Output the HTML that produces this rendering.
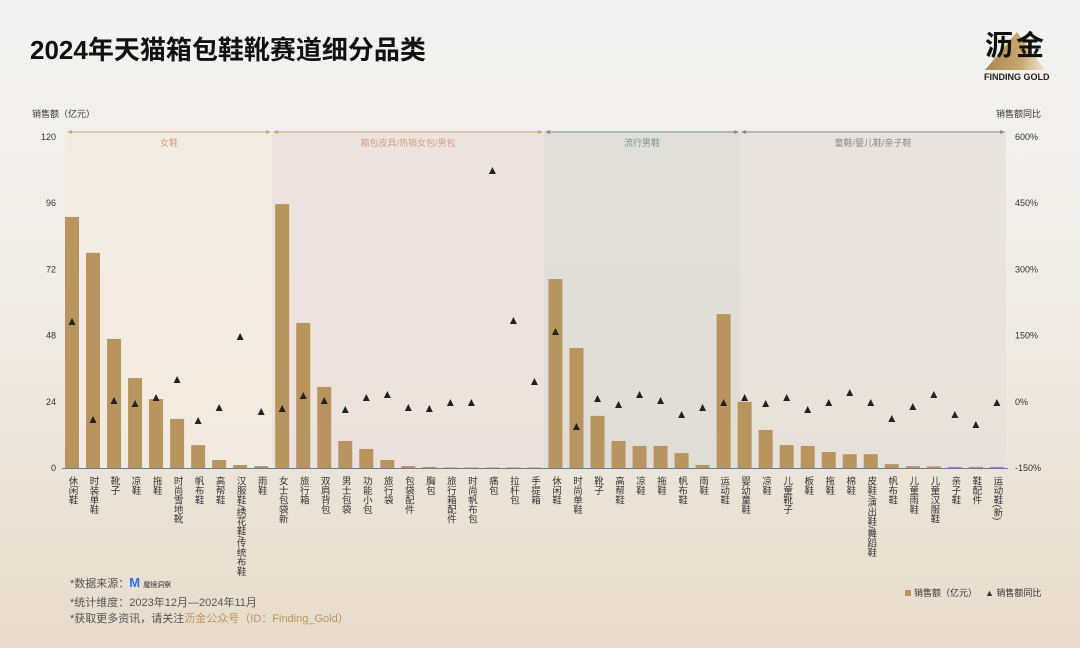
<!DOCTYPE html>
<html><head><meta charset="utf-8"><style>
body{margin:0;width:1080px;height:648px;overflow:hidden;font-family:"Liberation Sans","Noto Sans CJK SC",sans-serif;background:linear-gradient(#f3f3f3 0%,#f0ede8 40%,#e8dccb 100%);position:relative}
.a{position:absolute;white-space:nowrap}
.v{position:absolute;writing-mode:vertical-rl;font-size:9.5px;color:#333;letter-spacing:0px;line-height:10px;top:476px}
</style></head><body>
<div class="a" style="left:30px;top:30px;font-size:26px;font-weight:bold;color:#111">2024年天猫箱包鞋靴赛道细分品类</div>
<svg class="a" style="left:975px;top:15px" width="90" height="65"><defs><linearGradient id="g" x1="0" x2="1"><stop offset="0" stop-color="#a88a55"/><stop offset="0.6" stop-color="#c9a86c"/><stop offset="1" stop-color="#f0e8da"/></linearGradient></defs><polygon points="10,55 42,17 70,55" fill="url(#g)"/></svg>
<div class="a" style="left:985px;top:24px;font-size:28px;font-weight:bold;color:#111;letter-spacing:3px">沥金</div>
<div class="a" style="left:984px;top:72px;font-size:9px;font-weight:bold;color:#222">FINDING GOLD</div>
<div class="a" style="left:32px;top:107px;font-size:9px;color:#333">销售额（亿元）</div>
<div class="a" style="left:996px;top:107px;font-size:9px;color:#333">销售额同比</div>
<svg id="s" class="a" style="left:0;top:0" width="1080" height="648"></svg>
<div id="lb"></div>
<div class="a" style="left:905px;top:586px;font-size:9px;color:#333"><span style="display:inline-block;width:6px;height:6px;background:#b8955f;margin-right:3px"></span>销售额（亿元）</div>
<div class="a" style="left:985px;top:586px;font-size:9px;color:#333">▲ 销售额同比</div>
<div class="a" style="left:70px;top:575px;font-size:11px;color:#555;line-height:16.5px">*数据来源：<span style="color:#2b6fe8;font-weight:bold;font-size:13px">M</span> <span style="font-size:7px;color:#333">魔镜洞察</span><br>*统计维度：2023年12月—2024年11月<br>*获取更多资讯，请关注<span style="color:#b8955f">沥金公众号（ID：Finding_Gold）</span></div>
<script>
var names=["休闲鞋","时装单鞋","靴子","凉鞋","拖鞋","时尚雪地靴","帆布鞋","高帮鞋","汉服鞋/绣花鞋/传统布鞋","雨鞋",
"女士包袋新","旅行箱","双肩背包","男士包袋","功能小包","旅行袋","包袋配件","胸包","旅行箱配件","时尚帆布包","痛包","拉杆包","手提箱",
"休闲鞋","时尚单鞋","靴子","高帮鞋","凉鞋","拖鞋","帆布鞋","雨鞋","运动鞋",
"婴幼童鞋","凉鞋","儿童靴子","板鞋","拖鞋","棉鞋","皮鞋/演出鞋/舞蹈鞋","帆布鞋","儿童雨鞋","儿童汉服鞋","亲子鞋","鞋配件","运动鞋(新)"];
var v=[91,78,46.8,32.6,25,17.8,8.3,2.9,1.1,0.7,95.7,52.6,29.4,9.8,6.9,2.9,0.7,0.4,0.2,0.2,0.2,0.2,0.2,68.5,43.5,18.9,9.8,8,8,5.4,1.1,55.8,24,13.8,8.3,8,5.8,5,5,1.4,0.7,0.6,0.4,0.4,0.4];
var t=[322,420,401,404,398,380,421,408,337,412,409,396,401,410,398,395,408,409,403,403,171,321,382,332,427,399,405,395,401,415,408,403,398,404,398,410,403,393,403,419,407,395,415,425,403];
var h='',L='';
var secs=[[66,272,'#f3ebe0','#c9a27e','女鞋'],[272,544,'#ece1dc','#c9a27e','箱包皮具/热销女包/男包'],[544,740,'#dddcd5','#7d918b','流行男鞋'],[740,1006,'#e6e1da','#8a8a8a','童鞋/婴儿鞋/亲子鞋']];
secs.forEach(function(s){h+='<rect x="'+s[0]+'" y="131" width="'+(s[1]-s[0])+'" height="337" fill="'+s[2]+'" opacity="0.85"/>';
h+='<line x1="'+(s[0]+4)+'" y1="132" x2="'+(s[1]-4)+'" y2="132" stroke="'+s[3]+'" stroke-width="1"/>';
h+='<polygon points="'+(s[0]+1)+',132 '+(s[0]+6)+',130 '+(s[0]+6)+',134" fill="'+s[3]+'"/><polygon points="'+(s[1]-1)+',132 '+(s[1]-6)+',130 '+(s[1]-6)+',134" fill="'+s[3]+'"/>';
h+='<text x="'+((s[0]+s[1])/2)+'" y="146" font-size="9" text-anchor="middle" fill="'+(s[3]=='#c9a27e'?'#d0a080':s[3])+'" font-family="Liberation Sans,Noto Sans CJK SC,sans-serif">'+s[4]+'</text>';});
var yl=[120,96,72,48,24,0],yr=['600%','450%','300%','150%','0%','-150%'];
for(var i=0;i<6;i++){var y=137+i*66.2;h+='<text x="56" y="'+(y+3)+'" font-size="9" text-anchor="end" fill="#333" font-family="Liberation Sans,sans-serif">'+yl[i]+'</text><text x="1015" y="'+(y+3)+'" font-size="9" fill="#333" font-family="Liberation Sans,sans-serif">'+yr[i]+'</text>';}
h+='<line x1="62" y1="468.5" x2="1008" y2="468.5" stroke="#6b7d96" stroke-width="1"/>';
for(var i=0;i<45;i++){var c=72+i*21.02,bh=v[i]*2.758;
h+='<rect x="'+(c-7)+'" y="'+(468-bh)+'" width="14" height="'+bh+'" fill="#b8955f"/>';
h+='<polygon points="'+c+','+(t[i]-4)+' '+(c-3.5)+','+(t[i]+3)+' '+(c+3.5)+','+(t[i]+3)+'" fill="#222"/>';
L+='<div class="v" style="left:'+(c-5.5)+'px">'+names[i]+'</div>';}
document.getElementById('s').innerHTML=h;document.getElementById('lb').innerHTML=L;
</script>
</body></html>
